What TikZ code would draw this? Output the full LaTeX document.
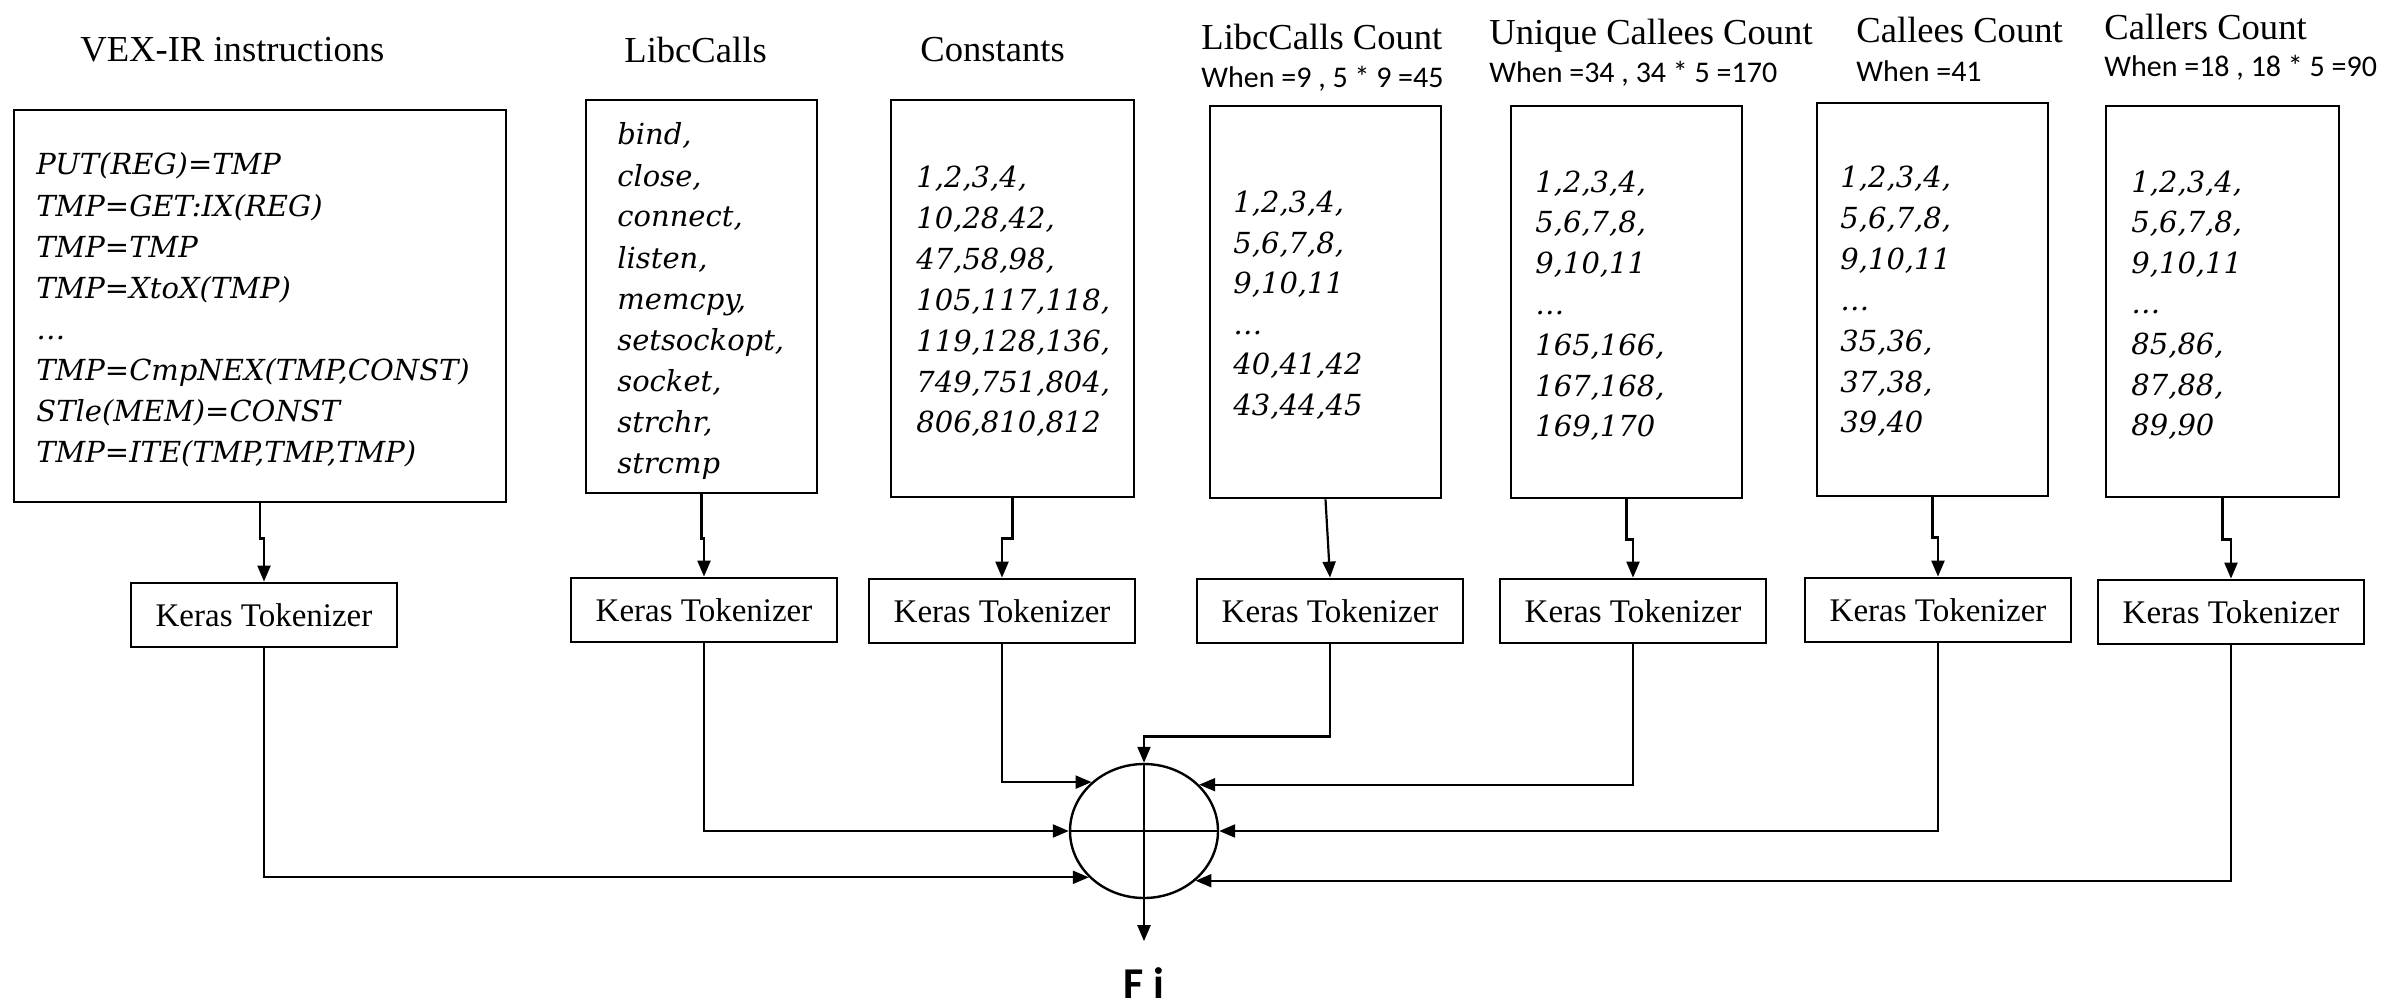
\documentclass[tikz,border=0pt]{standalone}
\usepackage{fontspec}
\setmainfont{Liberation Serif}
\newfontfamily\listfont{DejaVu Serif}
\newfontfamily\calfont{Carlito}
\usetikzlibrary{arrows.meta,shapes.geometric}

\begin{document}
\begin{tikzpicture}[x=0.5pt,y=-0.5pt,
  bigbox/.style={draw, line width=1.4pt, inner sep=0pt},
  tokbox/.style={draw, line width=1.4pt, inner sep=0pt, minimum width=133pt,
    minimum height=32pt, font=\fontsize{16.5}{19}\selectfont},
  listtxt/.style={anchor=base west, inner sep=0pt,
    font=\listfont\itshape\fontsize{14.5}{17}\selectfont},
  titletxt/.style={anchor=base west, inner sep=0pt,
    font=\fontsize{18.3}{22}\selectfont},
  subtxt/.style={anchor=base west, inner sep=0pt,
    font=\calfont\fontsize{15}{18}\selectfont},
  arr/.style={-{Triangle[length=8pt,width=6.5pt]}, line width=1.1pt},
  line/.style={line width=1.1pt}]

\fill[white] (0,0) rectangle (2389,1006);
\useasboundingbox (0,0) rectangle (2389,1006);

% ---- column titles ----
\node[titletxt] (t1) at (80,62) {VEX-IR instructions};
\node[titletxt] (t2) at (624,63) {LibcCalls};
\node[titletxt] (t3) at (920,62) {Constants};
\node[titletxt] (t4) at (1201,50) {LibcCalls Count};
\node[titletxt] (t5) at (1489,45) {Unique Callees Count};
\node[titletxt] (t6) at (1856,43) {Callees Count};
\node[titletxt] (t7) at (2104,40) {Callers Count};

\node[subtxt] (s4) at (1201,88) {When =9 , 5 * 9 =45};
\node[subtxt] (s5) at (1489,83) {When =34 , 34 * 5 =170};
\node[subtxt] (s6) at (1856,82) {When =41};
\node[subtxt] (s7) at (2104,77) {When =18 , 18 * 5 =90};

% ---- feature boxes ----
\node[bigbox, minimum width=246pt, minimum height=196pt] (vex) at (260,306) {};
\node[bigbox, minimum width=115.5pt, minimum height=196.5pt] (libc) at (701.5,296.5) {};
\node[bigbox, minimum width=121.5pt, minimum height=198.5pt] (const) at (1012.5,298.5) {};
\node[bigbox, minimum width=115.5pt, minimum height=196pt] (lcc) at (1325.5,302) {};
\node[bigbox, minimum width=115.5pt, minimum height=196pt] (ucc) at (1626.5,302) {};
\node[bigbox, minimum width=115.5pt, minimum height=196.5pt] (cec) at (1932.5,299.5) {};
\node[bigbox, minimum width=116.5pt, minimum height=195.5pt] (crc) at (2222.5,301.5) {};

% ---- box contents ----
\foreach \t [count=\i from 0] in {{PUT(REG)=TMP},{TMP=GET:IX(REG)},{TMP=TMP},
    {TMP=XtoX(TMP)},{…},{TMP=CmpNEX(TMP,CONST)},{STle(MEM)=CONST},{TMP=ITE(TMP,TMP,TMP)}}
  \node[listtxt] (vexl\i) at (36,{175+41*\i}) {\t};

\foreach \t [count=\i from 0] in {{bind,},{close,},{connect,},{listen,},{memcpy,},
    {setsockopt,},{socket,},{strchr,},{strcmp}}
  \node[listtxt] (libcl\i) at (617,{145+41*\i}) {\t};

\foreach \t [count=\i from 0] in {{1,2,3,4,},{10,28,42,},{47,58,98,},{105,117,118,},
    {119,128,136,},{749,751,804,},{806,810,812}}
  \node[listtxt] (constl\i) at (916,{188+40.8*\i}) {\t};

\foreach \t [count=\i from 0] in {{1,2,3,4,},{5,6,7,8,},{9,10,11},{…},{40,41,42},{43,44,45}}
  \node[listtxt] (lccl\i) at (1233,{213+40.4*\i}) {\t};

\foreach \t [count=\i from 0] in {{1,2,3,4,},{5,6,7,8,},{9,10,11},{…},{165,166,},
    {167,168,},{169,170}}
  \node[listtxt] (uccl\i) at (1535,{192+40.8*\i}) {\t};

\foreach \t [count=\i from 0] in {{1,2,3,4,},{5,6,7,8,},{9,10,11},{…},{35,36,},
    {37,38,},{39,40}}
  \node[listtxt] (cecl\i) at (1840,{188+40.8*\i}) {\t};

\foreach \t [count=\i from 0] in {{1,2,3,4,},{5,6,7,8,},{9,10,11},{…},{85,86,},
    {87,88,},{89,90}}
  \node[listtxt] (crcl\i) at (2131,{192+40.6*\i}) {\t};

% ---- tokenizers ----
\node[tokbox] (tok1) at (264,615) {Keras Tokenizer};
\node[tokbox] (tok2) at (704,610) {Keras Tokenizer};
\node[tokbox] (tok3) at (1002,611) {Keras Tokenizer};
\node[tokbox] (tok4) at (1330,611) {Keras Tokenizer};
\node[tokbox] (tok5) at (1633,611) {Keras Tokenizer};
\node[tokbox] (tok6) at (1938,610) {Keras Tokenizer};
\node[tokbox] (tok7) at (2231,612) {Keras Tokenizer};

% ---- box -> tokenizer ----
\draw[arr] (vex.south) -- ++(0,35) -| (tok1.north);
\draw[arr] (libc.south) -- ++(0,44) -| (tok2.north);
\draw[arr] (const.south) -- ++(0,40) -| (tok3.north);
\draw[arr] (lcc.south) -- (tok4.north);
\draw[arr] (ucc.south) -- ++(0,40) -| (tok5.north);
\draw[arr] (cec.south) -- ++(0,40) -| (tok6.north);
\draw[arr] (crc.south) -- ++(0,41) -| (tok7.north);

% ---- concatenation node ----
\node[draw, ellipse, line width=1.2pt, minimum width=74pt, minimum height=67pt,
  inner sep=0pt] (ell) at (1144,831) {};
\draw[line] (ell.north) -- (ell.south);
\draw[line] (ell.west) -- (ell.east);

% ---- tokenizer -> concatenation ----
\draw[arr] (tok1.south) |- (ell.220);
\draw[arr] (tok2.south) |- (ell.180);
\draw[arr] (tok3.south) |- (ell.137);
\draw[arr] (tok4.south) -- ++(0,92) -| (ell.north);
\draw[arr] (tok5.south) |- (ell.40);
\draw[arr] (tok6.south) |- (ell.0);
\draw[arr] (tok7.south) |- (ell.316);

% ---- output ----
\node[inner sep=0pt, font=\calfont\bfseries\fontsize{22}{26}\selectfont]
  (fi) at (1144,983) {F i};
\draw[arr, shorten >=13pt] (ell.south) -- (fi.north);

\end{tikzpicture}
\end{document}
